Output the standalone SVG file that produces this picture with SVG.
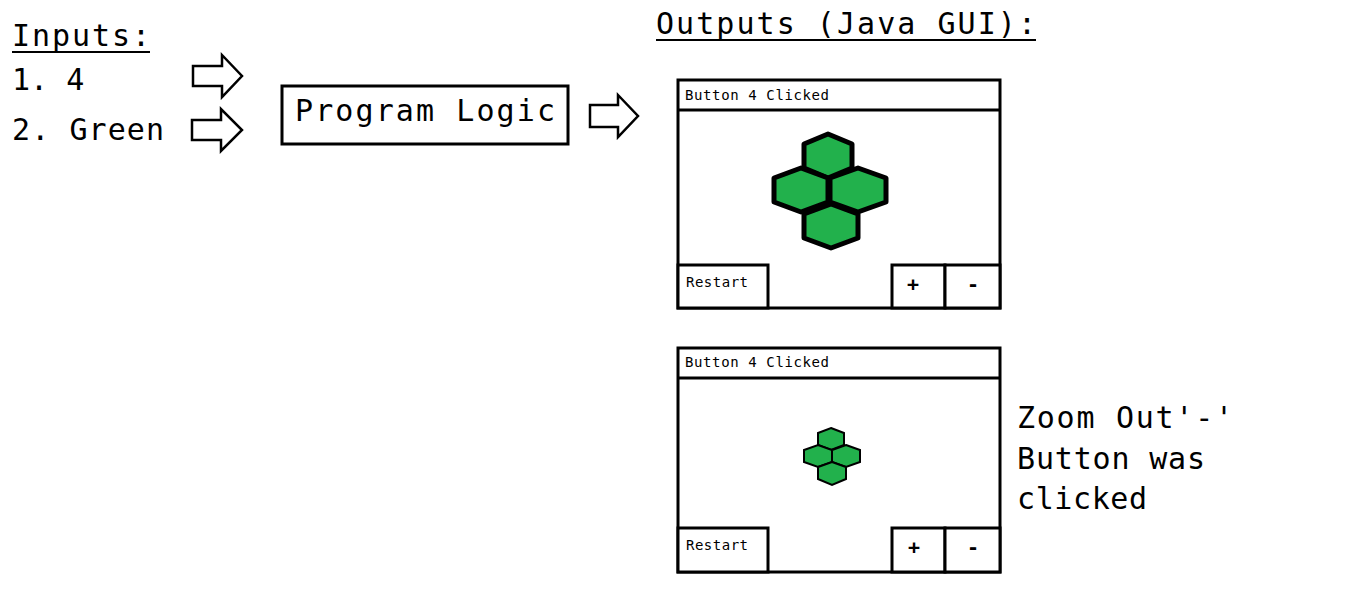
<svg xmlns="http://www.w3.org/2000/svg" width="1356" height="600" viewBox="0 0 1356 600">
<style>
text{font-family:"DejaVu Sans Mono","Liberation Mono",monospace;fill:#000}
.big{font-size:30px}
.sm{font-size:14px}
.box{fill:#fff;stroke:#000;stroke-width:3}
.ul{stroke:#000;stroke-width:2}
.arr{fill:#fff;stroke:#000;stroke-width:2.5;stroke-linejoin:miter}
.hx{fill:#22b14c;stroke:#000;stroke-width:5;stroke-linejoin:round}
.hs{fill:#22b14c;stroke:#000;stroke-width:2}
</style>
<rect width="1356" height="600" fill="#fff"/>
<g id="inputs">
<text class="big" x="12" y="46" textLength="138">Inputs:</text>
<line class="ul" x1="12" y1="52" x2="150" y2="52"/>
<text class="big" x="12" y="90">1. 4</text>
<text class="big" x="12" y="140" textLength="152">2. Green</text>
</g>
<g id="logic">
<rect class="box" x="282" y="86" width="286" height="58"/>
<text class="big" x="295" y="121" textLength="260">Program Logic</text>
</g>
<g id="connectors">
<path class="arr" d="M193,66 H222 V55 L242,76 L222,97 V86 H193 Z"/>
<path class="arr" d="M192,120 H221 V109 L242,130 L221,151 V140 H192 Z"/>
<path class="arr" d="M590,105 H618 V95 L638,116 L618,137 V127 H590 Z"/>
</g>
<g id="outputs-title">
<text class="big" x="656" y="34" textLength="380">Outputs (Java GUI):</text>
<line class="ul" x1="656" y1="40" x2="1036" y2="40"/>
</g>
<g id="window1">
<rect class="box" x="678" y="80" width="322" height="228"/>
<line x1="678" y1="110" x2="1000" y2="110" stroke="#000" stroke-width="3"/>
<text class="sm" x="685" y="100" textLength="144">Button 4 Clicked</text>
<rect class="box" x="678" y="265" width="90" height="43"/>
<text class="sm" x="686" y="287" textLength="62">Restart</text>
<rect class="box" x="892" y="265" width="53" height="43"/>
<rect class="box" x="945" y="265" width="55" height="43"/>
<text x="907" y="291" style="font-size:20px;font-weight:bold">+</text>
<text x="967" y="291" style="font-size:20px;font-weight:bold">-</text>
<path class="hx" d="M828,134 L852,144 L852,168 L828,178 L804,168 L804,144 Z"/>
<path class="hx" d="M801,168 L828,178 L828,202 L801,212 L774,202 L774,178 Z"/>
<path class="hx" d="M858,168 L886,178 L886,202 L858,212 L830,202 L830,178 Z"/>
<path class="hx" d="M831,204 L858,214 L858,238 L831,248 L804,238 L804,214 Z"/>
</g>
<g id="window2">
<rect class="box" x="678" y="348" width="322" height="224"/>
<line x1="678" y1="378" x2="1000" y2="378" stroke="#000" stroke-width="3"/>
<text class="sm" x="685" y="367" textLength="144">Button 4 Clicked</text>
<rect class="box" x="678" y="528" width="90" height="44"/>
<text class="sm" x="686" y="550" textLength="62">Restart</text>
<rect class="box" x="892" y="528" width="53" height="44"/>
<rect class="box" x="945" y="528" width="55" height="44"/>
<text x="908" y="554" style="font-size:20px;font-weight:bold">+</text>
<text x="967" y="554" style="font-size:20px;font-weight:bold">-</text>
<path class="hs" d="M831,428 L844,433 L844,445 L831,450 L818,445 L818,433 Z"/>
<path class="hs" d="M818,445 L832,450 L832,462 L818,467 L804,462 L804,450 Z"/>
<path class="hs" d="M846,445 L860,450 L860,462 L846,467 L832,462 L832,450 Z"/>
<path class="hs" d="M832,462 L846,467 L846,479 L832,485 L818,479 L818,467 Z"/>
</g>
<g id="note">
<text class="big" x="1017" y="428" textLength="216">Zoom Out'-'</text>
<text class="big" x="1017" y="469" textLength="188">Button was</text>
<text class="big" x="1017" y="509" textLength="130">clicked</text>
</g>
</svg>
